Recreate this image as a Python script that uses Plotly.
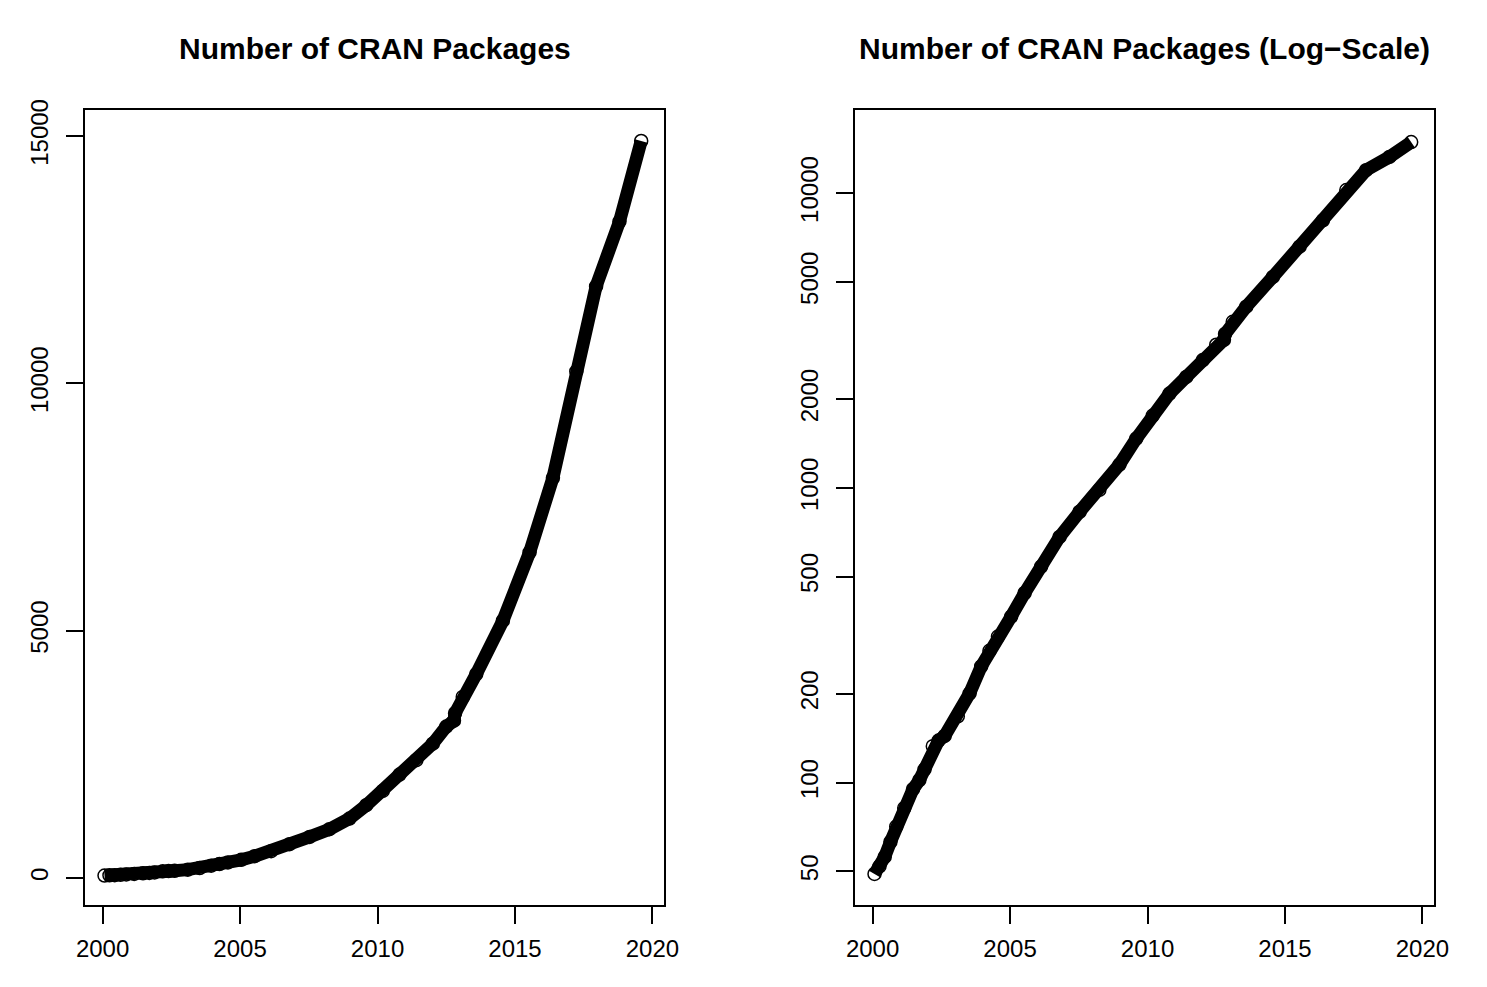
import plotly.graph_objects as go
from plotly.subplots import make_subplots

# values (decimal year, number of packages on CRAN)
years = [2000.07, 2000.25, 2000.44, 2000.65, 2000.86, 2001.15, 2001.47, 2001.70,
         2001.89, 2002.19, 2002.40, 2002.62, 2003.10, 2003.53, 2003.95, 2004.25,
         2004.56, 2005.04, 2005.53, 2006.13, 2006.80, 2007.53, 2008.25, 2008.98,
         2009.59, 2010.19, 2010.80, 2011.41, 2012.01, 2012.50, 2012.78, 2012.82,
         2013.10, 2013.59, 2014.56, 2015.53, 2016.38, 2017.23, 2017.95, 2018.80,
         2019.59]
packages = [49, 52, 56, 63, 71, 82, 95, 102,
            111, 133, 139, 144, 168, 201, 248, 280,
            313, 366, 440, 541, 682, 830, 985, 1200,
            1470, 1760, 2090, 2380, 2715, 3060, 3180, 3330,
            3660, 4120, 5200, 6580, 8090, 10240, 11960, 13270,
            14900]

lin_ticks = [0, 5000, 10000, 15000]
log_ticks = [50, 100, 200, 500, 1000, 2000, 5000, 10000]
year_ticks = [2000, 2005, 2010, 2015, 2020]

W, H = 1487, 987
OFF = 8  # page body margin
font = "Liberation Sans, Arial, sans-serif"


def px(x):
    return (x - OFF) / W


def py(y):
    return 1 - (y - OFF) / H


fig = make_subplots(rows=1, cols=2)

for col in (1, 2):
    fig.add_trace(go.Scatter(
        x=years, y=packages,
        mode='lines+markers',
        line=dict(color='black', width=13),
        marker=dict(symbol='circle-open', size=13, color='black',
                    line=dict(width=1.5, color='black')),
        showlegend=False, hoverinfo='x+y'
    ), row=1, col=col)

axis_style = dict(
    showline=True, mirror=True, linewidth=2, linecolor='black',
    ticks='outside', ticklen=17, tickwidth=2, tickcolor='black',
    showgrid=False, zeroline=False, automargin=False,
    tickfont=dict(family=font, size=24, color='black'),
)

fig.update_xaxes(range=[1999.36, 2020.42], tickvals=year_ticks,
                 ticklabelstandoff=4, **axis_style)
fig.update_yaxes(tickangle=-90, ticklabelstandoff=8, **axis_style)

fig.update_xaxes(domain=[px(85), px(664)], row=1, col=1)
fig.update_xaxes(domain=[px(855), px(1434)], row=1, col=2)

fig.update_yaxes(domain=[py(905), py(110)])
fig.update_yaxes(range=[-547, 15526], tickvals=lin_ticks,
                 ticktext=[str(v) for v in lin_ticks], row=1, col=1)
fig.update_yaxes(type='log', range=[1.585, 4.282], tickvals=log_ticks,
                 ticktext=[str(v) for v in log_ticks], row=1, col=2)

fig.add_annotation(text="<b>Number of CRAN Packages</b>",
                   x=px((85 + 664) / 2), y=py(48), xref='paper', yref='paper',
                   xanchor='center', yanchor='middle',
                   showarrow=False, font=dict(family=font, size=30, color='black'))
fig.add_annotation(text="<b>Number of CRAN Packages (Log\u2212Scale)</b>",
                   x=px((855 + 1434) / 2), y=py(48), xref='paper', yref='paper',
                   xanchor='center', yanchor='middle',
                   showarrow=False, font=dict(family=font, size=30, color='black'))

fig.update_layout(
    template='none',
    width=W, height=H,
    margin=dict(l=0, r=0, t=0, b=0),
    plot_bgcolor='white', paper_bgcolor='white',
    font=dict(family=font, color='black'),
)

fig.write_html("out.html")
